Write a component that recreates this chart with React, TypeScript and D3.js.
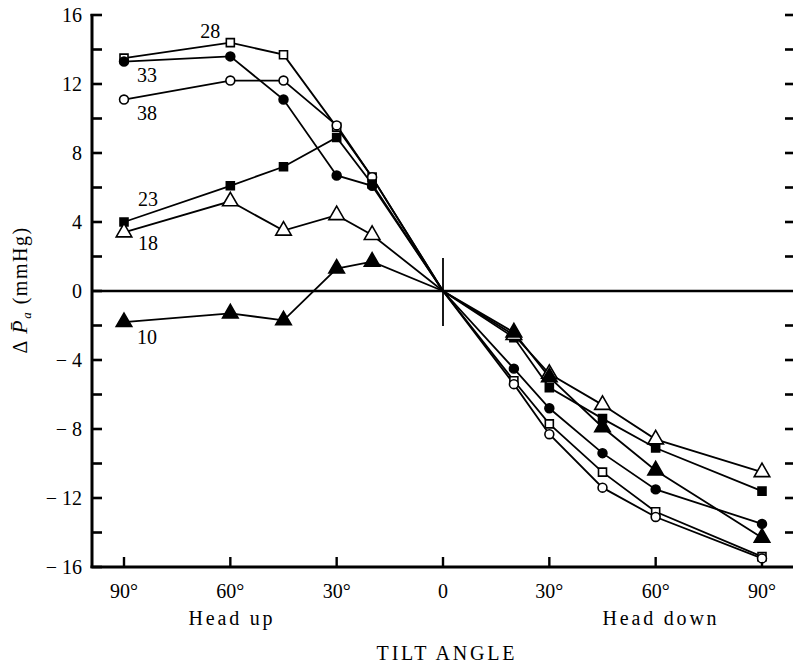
import React, { useEffect, useRef } from 'react'
import * as d3 from 'd3'

// tilt angle in degrees: negative = head up, positive = head down
const angles = [-90, -60, -45, -30, -20, 0, 20, 30, 45, 60, 90]

const s28 = [13.5, 14.4, 13.7, 9.5, 6.6, 0, -5.2, -7.7, -10.5, -12.8, -15.4]
const s33 = [13.3, 13.6, 11.1, 6.7, 6.1, 0, -4.5, -6.8, -9.4, -11.5, -13.5]
const s38 = [11.1, 12.2, 12.2, 9.6, 6.6, 0, -5.4, -8.3, -11.4, -13.1, -15.5]
const s23 = [4.0, 6.1, 7.2, 8.9, 6.2, 0, -2.7, -5.6, -7.4, -9.1, -11.6]
const s18 = [3.4, 5.2, 3.5, 4.4, 3.25, 0, -2.55, -4.8, -6.6, -8.6, -10.5]
const s10 = [-1.8, -1.3, -1.7, 1.3, 1.7, 0, -2.4, -5.0, -7.9, -10.4, -14.3]

const xTickValues = [-90, -60, -30, 0, 30, 60, 90]
const xTickLabels = ['90°', '60°', '30°', '0', '30°', '60°', '90°']
const yTickValues = [16, 12, 8, 4, 0, -4, -8, -12, -16]

type Series = {
  name: string
  values: number[]
  shape: 'square' | 'circle' | 'triangle'
  filled: boolean
  labelAt: number // index of point the label hangs off
  dx: number
  dy: number
}

const series: Series[] = [
  { name: '28', values: s28, shape: 'square', filled: false, labelAt: 1, dx: -20, dy: -5 },
  { name: '38', values: s38, shape: 'circle', filled: false, labelAt: 0, dx: 23, dy: 20 },
  { name: '33', values: s33, shape: 'circle', filled: true, labelAt: 0, dx: 23, dy: 20 },
  { name: '23', values: s23, shape: 'square', filled: true, labelAt: 0, dx: 24, dy: -16 },
  { name: '18', values: s18, shape: 'triangle', filled: false, labelAt: 0, dx: 24, dy: 18 },
  { name: '10', values: s10, shape: 'triangle', filled: true, labelAt: 0, dx: 23, dy: 22 },
]

const W = 793
const H = 667
const font = '"Liberation Serif", "Times New Roman", serif'

export default function App() {
  const ref = useRef<SVGSVGElement>(null)

  useEffect(() => {
    const svg = d3.select(ref.current)
    svg.selectAll('*').remove()

    const left = 92
    const right = 796
    const top = 15
    const bottom = 567

    const x = d3.scaleLinear().domain([-90, 90]).range([124, 762])
    const y = d3.scaleLinear().domain([-16, 16]).range([bottom, top])

    const g = svg.append('g')

    // left axis
    g.append('line')
      .attr('x1', left).attr('x2', left)
      .attr('y1', top - 1).attr('y2', bottom + 1)
      .attr('stroke', '#000').attr('stroke-width', 3)
    // bottom axis
    g.append('line')
      .attr('x1', left - 1.5).attr('x2', right)
      .attr('y1', bottom).attr('y2', bottom)
      .attr('stroke', '#000').attr('stroke-width', 3)
    // zero line
    g.append('line')
      .attr('x1', left).attr('x2', right)
      .attr('y1', y(0)).attr('y2', y(0))
      .attr('stroke', '#000').attr('stroke-width', 2.4)
    // vertical mark at 0 tilt
    g.append('line')
      .attr('x1', x(0)).attr('x2', x(0))
      .attr('y1', y(0) - 33).attr('y2', y(0) + 35)
      .attr('stroke', '#000').attr('stroke-width', 1.8)

    const minor = d3.range(-16, 17, 2)
    // left ticks (inward)
    g.append('g').selectAll('line')
      .data(minor)
      .enter().append('line')
        .attr('x1', d => (d === 16 ? left - 1.5 : left))
        .attr('x2', left + 10)
        .attr('y1', d => y(d)).attr('y2', d => y(d))
        .attr('stroke', '#000').attr('stroke-width', 2.6)
    // right ticks (inward)
    g.append('g').selectAll('line')
      .data(minor.filter(d => d !== 0 && d !== -16))
      .enter().append('line')
        .attr('x1', W - 8).attr('x2', W)
        .attr('y1', d => y(d)).attr('y2', d => y(d))
        .attr('stroke', '#000').attr('stroke-width', 2.6)

    g.append('g').selectAll('text')
      .data(yTickValues)
      .enter().append('text')
        .attr('x', 82)
        .attr('y', d => y(d))
        .attr('dy', '0.35em')
        .attr('text-anchor', 'end')
        .attr('font-family', font)
        .attr('font-size', 20)
        .text(d => (d < 0 ? '\u2212 ' + Math.abs(d) : String(d)))

    // bottom ticks (inward)
    g.append('g').selectAll('line')
      .data(xTickValues)
      .enter().append('line')
        .attr('x1', d => x(d)).attr('x2', d => x(d))
        .attr('y1', bottom).attr('y2', bottom - 10)
        .attr('stroke', '#000').attr('stroke-width', 2.4)

    g.append('g').selectAll('text')
      .data(xTickValues)
      .enter().append('text')
        .attr('x', d => x(d))
        .attr('y', 598)
        .attr('text-anchor', 'middle')
        .attr('font-family', font)
        .attr('font-size', 20)
        .text((d, i) => xTickLabels[i])

    const caption = (tx: number, ty: number, s: string) =>
      g.append('text')
        .attr('x', tx).attr('y', ty)
        .attr('text-anchor', 'middle')
        .attr('font-family', font)
        .attr('font-size', 20)
        .attr('letter-spacing', 2.8)
        .text(s)
    caption(232, 625, 'Head up')
    caption(661, 625, 'Head down')
    caption(447, 660, 'TILT ANGLE')

    // y axis title
    const yt = g.append('text')
      .attr('transform', `translate(27, ${y(0) - 1}) rotate(-90)`)
      .attr('text-anchor', 'middle')
      .attr('font-family', font)
      .attr('font-size', 20)
      .attr('letter-spacing', 1.5)
    yt.append('tspan').text('\u0394 ')
    yt.append('tspan').attr('font-style', 'italic').attr('font-size', 22).text('P\u0304')
    yt.append('tspan').attr('font-style', 'italic').attr('font-size', 13).attr('dy', 4).text('a')
    yt.append('tspan').attr('dy', -4).text(' (mmHg)')

    const line = d3.line<number>()
      .x((d, i) => x(angles[i]))
      .y(d => y(d))

    const symbolFor = (s: Series) => {
      if (s.shape === 'square') return d3.symbol().type(d3.symbolSquare).size(64)()
      if (s.shape === 'circle') return d3.symbol().type(d3.symbolCircle).size(62)()
      return d3.symbol().type(d3.symbolTriangle).size(105)()
    }

    series.forEach(s => {
      g.append('path')
        .attr('d', line(s.values))
        .attr('fill', 'none')
        .attr('stroke', '#000')
        .attr('stroke-width', 1.8)
    })

    series.forEach(s => {
      g.append('g').selectAll('path')
        .data(s.values.map((v, i) => ({ a: angles[i], v })).filter(d => d.a !== 0))
        .enter().append('path')
          .attr('transform', d => `translate(${x(d.a)},${y(d.v)})`)
          .attr('d', symbolFor(s))
          .attr('fill', s.filled ? '#000' : '#fff')
          .attr('stroke', '#000')
          .attr('stroke-width', 1.6)

      g.append('text')
        .attr('x', x(angles[s.labelAt]) + s.dx)
        .attr('y', y(s.values[s.labelAt]) + s.dy)
        .attr('text-anchor', 'middle')
        .attr('font-family', font)
        .attr('font-size', 20)
        .text(s.name)
    })
  }, [])

  return (
    <svg
      ref={ref}
      width={W}
      height={H}
      style={{ position: 'absolute', left: 0, top: 0, background: '#fff' }}
    />
  )
}
